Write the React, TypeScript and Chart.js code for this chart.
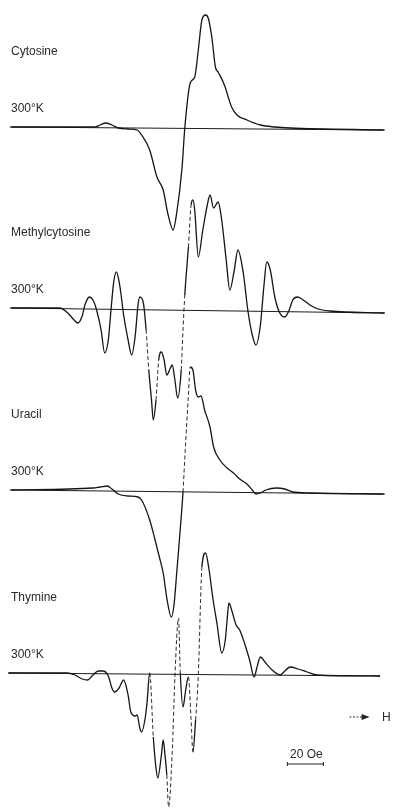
import React, { useEffect, useRef } from "react";
import { Chart, registerables } from "chart.js";

Chart.register(...registerables);

// Field offset from the spectrum centre, in oersted
// Signal: first-derivative EPR amplitude, arbitrary units

const cytosineField = [-96, -49, -46, -43, -39.5, -36, -30.5, -25.5, -23, -18.5, -14.5, -11, -8.5, -5.5, -3.5, -0.5, 1, 4, 6.5, 8.5, 10.5, 12.5, 14, 16, 18, 19.5, 23, 27, 30, 35.5, 43, 51, 59.5, 112];
const cytosineSignal = [0, 0, 2, 4, 2, -1, -2, -3, -8, -23, -50, -63, -86, -103, -86, -40, -1, 44, 50, 77, 107, 112, 109, 90, 60, 55, 42, 20, 12, 7, 2, 0, -1, -3];

const methylField = [-96, -68.5, -64, -60.5, -58.5, -56, -54.5, -52, -50, -48, -45.5, -43.5, -41.5, -40, -38.5, -37, -35, -33, -30.5, -28.5, -26.5, -25, -24, -22, -20.5, -19, -17.5, -16.5, -15, -13.5, -12, -10.5, -9, -7, -6, -4.5, -3, -1, 0, 1, 3, 4.5, 5.5, 6.5, 8.5, 11, 13.5, 15, 17, 19.5, 21.5, 24, 26, 28.5, 30.5, 33.5, 36, 38.5, 40.5, 43, 45, 46.5, 48.5, 51, 53.5, 56.5, 59, 61, 63.5, 66, 70.5, 75, 81.5, 112];
const methylSignal = [0, 0, -5, -12, -15, -8, 3, 11, 8, -2, -22, -45, -32, -2, 26, 36, 21, -7, -32, -47, -27, 3, 11, 5, -22, -62, -92, -112, -92, -52, -44, -52, -67, -60, -57, -72, -90, -62, -22, 13, 61, 103, 108, 98, 51, 78, 103, 113, 100, 106, 88, 48, 18, 38, 58, 35, -2, -27, -37, -17, 23, 46, 38, 11, -4, -9, -2, 8, 11, 9, 3, -1, -3, -5];

const uracilField = [-96, -50, -46, -42, -39.5, -36, -31, -25, -23, -18.5, -15.5, -13, -11, -9, -6.5, -5, -3.5, -2, 0, 1, 3, 4, 5.5, 7, 8.5, 10, 12, 15, 17, 20.5, 24.5, 28, 31.5, 35.5, 38.5, 40.5, 43, 46, 52, 56.5, 61, 70.5, 112];
const uracilSignal = [0, 2, 3, 4, 1, -4, -6, -7, -10, -30, -50, -68, -83, -108, -127, -115, -83, -50, -2, 32, 95, 123, 120, 100, 93, 94, 80, 63, 43, 30, 22, 17, 11, 6, 0, -4, -3, 0, 2, 1, -2, -3, -4];

const thymineField = [-97, -64.5, -60, -56, -53, -50, -47, -44.5, -41.5, -39.5, -38, -35.5, -33, -30.5, -29, -26.5, -25.5, -24, -23, -21, -20, -18.5, -16.5, -15, -14, -12, -11, -10, -9, -8, -6, -4.5, -2.5, -1.5, 0, 1.5, 3, 4.5, 5.5, 7, 8.5, 10.5, 12.5, 14.5, 16.5, 19, 21.5, 23.5, 24.5, 25.5, 27, 29.5, 31.5, 34.5, 37, 39.5, 41, 43, 45.5, 49.5, 54, 56, 59.5, 64, 69, 74.5, 109.5];
const thymineSignal = [0, 0, -2, -6, -7, -2, 2, 2, -3, -15, -19, -15, -7, -22, -39, -43, -42, -55, -59, -45, -30, 0, -64, -95, -105, -82, -67, -82, -102, -134, -80, -4, 55, 0, -34, -17, -4, -47, -79, -47, -2, 106, 120, 103, 76, 48, 20, 33, 53, 70, 63, 48, 43, 28, 13, -4, 5, 16, 11, 3, -2, 1, 6, 4, 1, -2, -3];

const sampleNames = ["Cytosine", "Methylcytosine", "Uracil", "Thymine"];
const temperatureLabel = "300°K";
const sampleFields = [cytosineField, methylField, uracilField, thymineField];
const sampleSignals = [cytosineSignal, methylSignal, uracilSignal, thymineSignal];
// baseline drift across the sweep (signal units at the high-field end)
const baselineDrift = [-3, -5, -4, -3];
const sweepStart = [-95, -95, -95, -97];
const sweepEnd = [111, 112, 111, 109.5];

const scaleBarLabel = "20 Oe";
const scaleBarOe = 20;
const fieldAxisLabel = "H";

// vertical position of each recording's zero line on the sheet
const traceOffsets = [683, 502, 320, 137];

const FONT = '12px "Liberation Sans", Arial, sans-serif';
const INK = "#151515";

// the pen runs faint on the fastest sweeps of the recorder
const steep = (c: any) =>
  Math.abs(c.p1.y - c.p0.y) / Math.max(0.1, Math.abs(c.p1.x - c.p0.x)) > 14.5;

const annotations = {
  id: "spectrumLabels",
  afterDraw(chart: any) {
    const { ctx, scales } = chart;
    const x = scales.x;
    const y = scales.y;
    ctx.save();
    ctx.font = FONT;
    ctx.fillStyle = "#2a2a2a";
    ctx.textBaseline = "middle";
    ctx.textAlign = "left";
    sampleNames.forEach((name, i) => {
      const base = y.getPixelForValue(traceOffsets[i]);
      ctx.fillText(name, 11, base - 75);
      ctx.fillText(temperatureLabel, 11, base - 18);
    });

    // field direction arrow
    const arrowY = y.getPixelForValue(93);
    const a0 = x.getPixelForValue(92.5);
    const a1 = x.getPixelForValue(102);
    ctx.strokeStyle = "#333";
    ctx.lineWidth = 1;
    ctx.setLineDash([2, 1.5]);
    ctx.beginPath();
    ctx.moveTo(a0, arrowY);
    ctx.lineTo(a1 - 4, arrowY);
    ctx.stroke();
    ctx.setLineDash([]);
    ctx.fillStyle = "#222";
    ctx.beginPath();
    ctx.moveTo(a1 + 3, arrowY);
    ctx.lineTo(a1 - 5, arrowY - 3);
    ctx.lineTo(a1 - 5, arrowY + 3);
    ctx.closePath();
    ctx.fill();
    ctx.fillStyle = "#2a2a2a";
    ctx.fillText(fieldAxisLabel, x.getPixelForValue(110.5), arrowY + 1);

    // 20 Oe scale bar
    const b0 = x.getPixelForValue(58);
    const b1 = x.getPixelForValue(58 + scaleBarOe);
    const barY = y.getPixelForValue(46);
    ctx.strokeStyle = "#222";
    ctx.lineWidth = 1;
    ctx.beginPath();
    ctx.moveTo(b0, barY);
    ctx.lineTo(b1, barY);
    ctx.moveTo(b0, barY - 2);
    ctx.lineTo(b0, barY + 2);
    ctx.moveTo(b1, barY - 2);
    ctx.lineTo(b1, barY + 2);
    ctx.stroke();
    ctx.textAlign = "center";
    ctx.textBaseline = "alphabetic";
    ctx.fillText(scaleBarLabel, (b0 + b1) / 2 + 1, barY - 6);
    ctx.restore();
  },
};

export default function App() {
  const canvasRef = useRef<HTMLCanvasElement | null>(null);

  useEffect(() => {
    if (!canvasRef.current) return;

    const baselines = sampleNames.map((name, i) => ({
      label: name + " baseline",
      data: [
        { x: sweepStart[i], y: traceOffsets[i] },
        { x: sweepEnd[i], y: traceOffsets[i] + baselineDrift[i] },
      ],
      borderColor: "#1e1e1e",
      borderWidth: 1.2,
      pointRadius: 0,
      order: 2,
    }));

    const traces = sampleNames.map((name, i) => ({
      label: name,
      data: sampleFields[i].map((f, k) => ({ x: f, y: traceOffsets[i] + sampleSignals[i][k] })),
      borderColor: INK,
      borderWidth: 1.3,
      pointRadius: 0,
      cubicInterpolationMode: "monotone" as const,
      order: 1,
      segment: {
        borderDash: (c: any) => (steep(c) ? [4, 2.5] : undefined),
        borderWidth: (c: any) => (steep(c) ? 0.9 : undefined),
      },
    }));

    const chart = new Chart(canvasRef.current, {
      type: "line",
      data: { datasets: [...baselines, ...traces] as any },
      options: {
        animation: false,
        responsive: true,
        maintainAspectRatio: false,
        layout: { padding: 0 },
        parsing: false,
        normalized: true,
        clip: false as any,
        events: [],
        plugins: {
          legend: { display: false },
          tooltip: { enabled: false },
        },
        scales: {
          x: { type: "linear", display: false, min: -101.667, max: 116.667 },
          y: { type: "linear", display: false, min: 0, max: 810 },
        },
      },
      plugins: [annotations],
    });

    return () => chart.destroy();
  }, []);

  return (
    <div
      style={{
        position: "fixed",
        left: 0,
        top: 0,
        width: 393,
        height: 810,
        background: "#ffffff",
      }}
    >
      <canvas ref={canvasRef} />
    </div>
  );
}
